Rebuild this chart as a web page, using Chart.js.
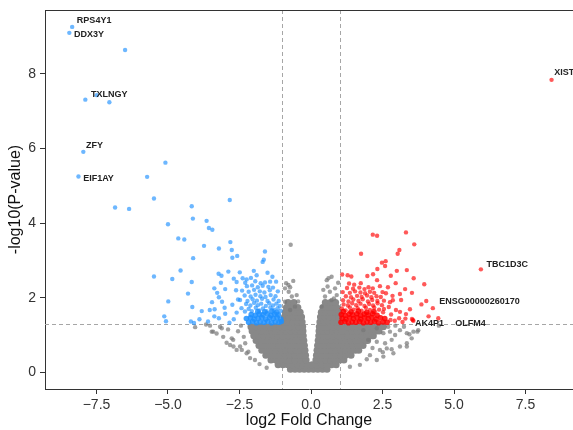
<!DOCTYPE html>
<html>
<head>
<meta charset="utf-8">
<script src="https://cdn.jsdelivr.net/npm/chart.js@4.4.1/dist/chart.umd.min.js"></script>
<style>
  html, body { margin: 0; padding: 0; background: #fff; overflow: hidden; }
  #c { display: block; }
</style>
</head>
<body>
<canvas id="c" width="573" height="430"></canvas>
<script>
// ---- axis ticks ----
const xTickValues = [-7.5, -5, -2.5, 0, 2.5, 5, 7.5];
const xTickLabels = ['\u22127.5', '\u22125.0', '\u22122.5', '0.0', '2.5', '5.0', '7.5'];
const yTickValues = [0, 2, 4, 6, 8];
const yTickLabels = ['0', '2', '4', '6', '8'];

// ---- thresholds ----
const fcCutoffs = [-1, 1];
const pCutoff = 1.3;

// ---- down-regulated (blue), scattered ----
const downPoints = [
  [-8.35,9.26],[-8.45,9.10],[-6.50,8.64],[-7.89,7.31],[-7.49,7.43],[-7.05,7.24],[-7.96,5.91],[-8.13,5.25],
  [-5.73,5.24],[-5.09,5.62],[-5.49,4.66],[-6.85,4.42],[-6.36,4.38],[-2.84,4.62],[-4.17,4.45],[-4.13,4.12],
  [-3.65,4.06],[-5.00,3.97],[-3.57,3.87],[-3.45,3.82],[-4.64,3.59],[-4.43,3.56],[-2.82,3.49],[-3.74,3.39],
  [-3.22,3.32],[-2.77,3.28],[-4.12,3.06],[-2.75,3.07],[-2.58,3.12],[-1.61,3.24],[-1.65,3.02],[-1.69,2.96],
  [-4.56,2.73],[-5.49,2.57],[-4.85,2.50],[-4.17,2.42],[-4.30,2.11],[-4.99,1.90],[-4.15,1.75],[-5.13,1.50],
  [-5.07,1.37],[-4.20,1.36],[-4.09,1.32],[-3.23,2.64],[-3.13,2.59],[-2.89,2.70],[-2.49,2.68],[-2.70,2.51],
  [-3.15,2.40],[-3.00,2.23],[-3.38,2.25],[-3.28,2.13],[-3.22,2.01],[-3.46,1.88],[-3.11,1.89],[-2.75,1.81],
  [-3.54,1.67],[-3.37,1.69],[-3.02,1.73],[-3.82,1.64],[-3.38,1.50],[-3.22,1.45],[-3.00,1.57],[-2.70,1.42],
  [-2.39,2.52],[-2.25,2.49],[-3.60,1.36],[-2.85,1.33],[-2.60,1.60],[-2.55,1.95],[-2.62,2.20],[-3.90,1.42],
  [-2.43,1.72],[-2.31,1.63],[-2.18,1.70],[-2.07,1.64],[-1.93,1.73],[-1.81,1.66],[-1.68,1.71],[-1.55,1.64],
  [-1.42,1.74],[-1.30,1.67],[-1.17,1.72],[-1.06,1.65],[-2.27,1.83],[-2.12,1.79],[-1.99,1.86],[-1.86,1.80],
  [-1.74,1.84],[-1.58,1.78],[-1.46,1.85],[-1.33,1.79],[-1.21,1.84],[-1.09,1.78],
  [-2.48,1.94],[-2.22,1.91],[-2.04,1.96],[-1.89,1.92],[-1.71,1.97],[-1.52,1.91],[-1.31,1.95],[-1.13,1.91],
  [-2.32,2.06],[-2.11,2.03],[-1.94,2.08],[-1.77,2.04],[-1.59,2.02],[-1.41,2.07],[-1.24,2.04],
  [-2.41,2.19],[-2.18,2.16],[-1.99,2.21],[-1.79,2.17],[-1.63,2.14],[-1.44,2.20],[-1.16,2.17],
  [-2.24,2.31],[-2.06,2.33],[-1.86,2.28],[-1.69,2.32],[-1.49,2.29],[-1.33,2.27],
  [-2.60,2.42],[-2.30,2.40],[-1.95,2.44],[-1.76,2.39],[-1.61,2.41],[-1.43,2.43],[-1.22,2.43],
  [-2.10,2.53],[-1.90,2.60],[-1.35,2.56],[-2.00,2.72],[-1.52,2.67]
];
// ---- down-regulated (blue), dense band ----
const downCore = [
  [-2.18,1.34],[-2.04,1.36],[-1.91,1.33],[-1.78,1.35],[-1.64,1.34],[-1.51,1.36],[-1.38,1.33],[-1.25,1.35],[-1.12,1.34],[-1.04,1.36],
  [-2.26,1.44],[-2.12,1.46],[-1.99,1.43],[-1.85,1.45],[-1.72,1.47],[-1.58,1.43],[-1.45,1.46],[-1.32,1.44],[-1.19,1.47],[-1.06,1.43],
  [-2.09,1.55],[-1.95,1.53],[-1.81,1.56],[-1.68,1.54],[-1.53,1.57],[-1.40,1.53],[-1.27,1.56],[-1.14,1.54],
  [-1.86,1.63],[-1.62,1.62],[-1.37,1.64],[-1.20,1.61]
];

// ---- up-regulated (red), scattered ----
const upPoints = [
  [8.41,7.84],[5.94,2.76],[4.26,1.72],[4.45,1.45],
  [2.16,3.69],[2.31,3.66],[3.32,3.75],[3.61,3.43],[1.75,3.18],[3.03,3.18],[3.09,3.28],[2.48,2.94],
  [2.61,2.98],[2.32,2.77],[2.59,2.85],[1.97,2.58],[2.17,2.63],[2.79,2.59],[3.00,2.72],[3.35,2.74],
  [3.59,2.52],[1.09,2.62],[1.28,2.60],[1.41,2.57],[1.33,2.38],[1.51,2.35],[1.74,2.39],[2.31,2.47],
  [2.41,2.31],[2.69,2.28],[2.96,2.39],[3.11,2.10],[3.29,2.23],[3.53,2.13],[3.15,1.94],[2.86,1.93],
  [2.76,1.88],[2.97,1.67],[3.11,1.62],[3.32,1.56],[3.46,1.69],[3.30,1.44],[2.93,1.38],[3.08,1.45],
  [3.56,1.40],[3.96,2.36],[4.03,1.91],[3.86,1.82],[4.11,1.50],[3.53,1.43],[3.58,1.38],[2.80,1.55],
  [2.72,1.75],[2.85,2.05],[2.62,2.12],[2.55,1.70],[3.20,1.35],[2.78,1.40],
  [1.08,1.71],[1.21,1.66],[1.36,1.74],[1.49,1.68],[1.63,1.72],[1.77,1.65],[1.92,1.73],[2.06,1.67],
  [2.21,1.74],[2.38,1.68],[2.52,1.61],[1.14,1.82],[1.29,1.79],[1.44,1.85],[1.58,1.80],[1.73,1.84],
  [1.87,1.78],[2.03,1.83],[2.17,1.79],[2.33,1.85],[2.48,1.80],
  [1.12,1.93],[1.31,1.90],[1.48,1.95],[1.66,1.91],[1.81,1.96],[1.99,1.90],[2.14,1.94],[2.32,1.91],[2.55,1.92],
  [1.22,2.04],[1.40,2.01],[1.61,2.05],[1.77,2.02],[1.96,2.06],[2.11,2.01],[2.29,2.04],[2.44,2.02],
  [1.11,2.15],[1.36,2.13],[1.54,2.17],[1.73,2.14],[1.89,2.12],[2.06,2.16],[2.21,2.13],[2.50,2.15],
  [1.26,2.26],[1.47,2.24],[1.69,2.27],[1.87,2.23],[2.01,2.28],[2.16,2.25]
];
// ---- up-regulated (red), dense band ----
const upCore = [
  [1.05,1.34],[1.18,1.36],[1.31,1.33],[1.44,1.35],[1.57,1.34],[1.70,1.36],[1.83,1.33],[1.96,1.35],[2.09,1.34],[2.22,1.36],[2.36,1.33],[2.52,1.35],[2.66,1.34],
  [1.09,1.45],[1.22,1.43],[1.35,1.46],[1.48,1.44],[1.61,1.47],[1.74,1.43],[1.87,1.46],[2.00,1.44],[2.13,1.47],[2.27,1.43],[2.43,1.46],[2.58,1.44],
  [1.06,1.55],[1.19,1.53],[1.33,1.56],[1.46,1.54],[1.60,1.57],[1.73,1.53],[1.86,1.56],[2.00,1.54],[2.15,1.57],[2.31,1.53],
  [1.13,1.63],[1.40,1.62],[1.66,1.64],[1.95,1.61],[2.20,1.63]
];

// ---- not significant (grey), scattered ----
const nsPoints = [
  [-4.05,1.21],[-3.67,1.28],[-3.53,1.25],[-3.42,1.09],[-3.30,1.04],[-3.12,1.18],[-3.07,0.95],[-2.95,0.79],
  [-2.77,0.91],[-2.71,0.69],[-2.60,0.60],[-2.42,0.60],[-2.25,0.51],[-2.13,0.38],[-1.96,0.33],[-3.47,1.09],
  [-3.18,1.22],[-2.72,0.87],[-2.48,0.69],[-2.19,0.55],[-2.83,0.73],[-2.55,1.10],[-2.35,0.95],[-2.90,1.15],
  [-2.45,1.25],[-1.80,0.22],[-1.55,0.12],[-2.30,0.78],
  [1.83,1.13],[2.30,1.18],[2.53,1.05],[2.76,1.09],[2.94,1.00],[3.11,1.13],[3.35,1.05],[3.58,1.09],
  [3.75,1.13],[2.00,0.87],[2.30,0.82],[2.59,0.78],[2.82,0.87],[2.41,0.60],[2.65,0.64],[2.88,0.51],
  [3.11,0.69],[2.06,0.46],[2.30,0.33],[2.53,0.42],[1.71,0.20],[1.36,0.15],[3.35,0.78],[3.52,0.91],
  [3.44,1.02],[3.72,1.09],[3.35,0.69],[2.82,0.62],[2.51,0.54],[4.47,1.25],[2.70,1.22],[2.95,1.25],
  [3.25,1.22],[2.15,0.65],[1.95,0.35],
  [-0.71,3.42],[-0.87,2.39],[-0.73,2.28],[-0.78,2.16],[-0.67,2.03],[-0.91,1.89],[-0.50,2.07],[-0.73,1.67],
  [-0.56,1.76],[-0.79,2.34],[-0.91,2.25],[-0.45,1.90],[-0.62,2.45],
  [0.72,2.56],[0.55,2.47],[0.43,2.21],[0.66,2.16],[0.84,2.25],[0.90,2.07],[0.49,2.03],[0.72,1.94],
  [0.37,1.76],[0.61,2.52],[0.95,2.40],[0.80,1.98],[0.58,2.30]
];
// ---- not significant (grey), dense body ----
const nsCore = [
  [-0.72,0.08],[-0.56,0.08],[-0.40,0.08],[-0.24,0.08],[-0.08,0.08],[0.08,0.08],[0.24,0.08],[0.40,0.08],[0.56,0.08],
  [-1.15,0.20],[-0.98,0.20],[-0.81,0.20],[-0.64,0.20],[-0.47,0.20],[-0.30,0.20],[-0.13,0.20],[0.04,0.20],[0.21,0.20],[0.38,0.20],[0.55,0.20],[0.72,0.20],[0.88,0.20],
  [-1.40,0.33],[-1.23,0.33],[-1.06,0.33],[-0.89,0.33],[-0.72,0.33],[-0.55,0.33],[-0.36,0.33],[-0.17,0.33],
  [0.17,0.33],[0.34,0.33],[0.51,0.33],[0.68,0.33],[0.85,0.33],[1.02,0.33],[1.15,0.33],
  [-1.58,0.46],[-1.41,0.46],[-1.24,0.46],[-1.07,0.46],[-0.90,0.46],[-0.73,0.46],[-0.56,0.46],[-0.38,0.46],[-0.19,0.46],
  [0.19,0.46],[0.36,0.46],[0.53,0.46],[0.70,0.46],[0.87,0.46],[1.04,0.46],[1.21,0.46],[1.40,0.46],
  [-1.72,0.59],[-1.55,0.59],[-1.38,0.59],[-1.21,0.59],[-1.04,0.59],[-0.87,0.59],[-0.70,0.59],[-0.53,0.59],[-0.37,0.59],[-0.21,0.59],
  [0.21,0.59],[0.37,0.59],[0.53,0.59],[0.70,0.59],[0.87,0.59],[1.04,0.59],[1.21,0.59],[1.38,0.59],[1.55,0.59],[1.67,0.59],
  [-1.82,0.72],[-1.65,0.72],[-1.48,0.72],[-1.31,0.72],[-1.14,0.72],[-0.97,0.72],[-0.80,0.72],[-0.63,0.72],[-0.47,0.72],[-0.23,0.72],[-0.34,0.72],
  [0.23,0.72],[0.36,0.72],[0.50,0.72],[0.65,0.72],[0.80,0.72],[0.97,0.72],[1.14,0.72],[1.31,0.72],[1.48,0.72],[1.65,0.72],[1.82,0.72],
  [-1.92,0.85],[-1.75,0.85],[-1.58,0.85],[-1.41,0.85],[-1.24,0.85],[-1.07,0.85],[-0.90,0.85],[-0.73,0.85],[-0.56,0.85],[-0.40,0.85],[-0.25,0.85],
  [0.25,0.85],[0.40,0.85],[0.56,0.85],[0.73,0.85],[0.90,0.85],[1.07,0.85],[1.24,0.85],[1.41,0.85],[1.58,0.85],[1.75,0.85],[1.92,0.85],[1.98,0.85],
  [-2.00,0.98],[-1.83,0.98],[-1.66,0.98],[-1.49,0.98],[-1.32,0.98],[-1.15,0.98],[-0.98,0.98],[-0.81,0.98],[-0.64,0.98],[-0.48,0.98],[-0.37,0.98],[-0.27,0.98],
  [0.27,0.98],[0.43,0.98],[0.60,0.98],[0.77,0.98],[0.94,0.98],[1.11,0.98],[1.28,0.98],[1.45,0.98],[1.62,0.98],[1.79,0.98],[1.96,0.98],[2.13,0.98],[2.18,0.98],
  [-2.06,1.11],[-1.89,1.11],[-1.72,1.11],[-1.55,1.11],[-1.38,1.11],[-1.21,1.11],[-1.04,1.11],[-0.87,1.11],[-0.70,1.11],[-0.53,1.11],[-0.38,1.11],[-0.28,1.11],
  [0.28,1.11],[0.42,1.11],[0.58,1.11],[0.75,1.11],[0.92,1.11],[1.09,1.11],[1.26,1.11],[1.43,1.11],[1.60,1.11],[1.77,1.11],[1.94,1.11],[2.11,1.11],[2.28,1.11],[2.38,1.11],
  [-2.10,1.22],[-1.93,1.22],[-1.76,1.22],[-1.59,1.22],[-1.42,1.22],[-1.25,1.22],[-1.08,1.22],[-0.91,1.22],[-0.74,1.22],[-0.57,1.22],[-0.42,1.22],[-0.29,1.22],
  [0.29,1.22],[0.44,1.22],[0.60,1.22],[0.77,1.22],[0.94,1.22],[1.11,1.22],[1.28,1.22],[1.45,1.22],[1.62,1.22],[1.79,1.22],[1.96,1.22],[2.13,1.22],[2.30,1.22],[2.45,1.22],[2.53,1.22],
  [-0.95,1.35],[-0.78,1.35],[-0.62,1.35],[-0.46,1.35],[-0.31,1.35],[0.31,1.35],[0.46,1.35],[0.62,1.35],[0.78,1.35],[0.95,1.35],
  [-0.93,1.48],[-0.76,1.48],[-0.60,1.48],[-0.45,1.48],[-0.33,1.48],[0.33,1.48],[0.48,1.48],[0.64,1.48],[0.80,1.48],[0.96,1.48],
  [-0.90,1.61],[-0.73,1.61],[-0.56,1.61],[-0.38,1.61],[0.36,1.61],[0.52,1.61],[0.68,1.61],[0.84,1.61],[0.97,1.61],
  [-0.86,1.74],[-0.68,1.74],[-0.46,1.74],[0.42,1.74],[0.58,1.74],[0.74,1.74],[0.90,1.74],
  [-0.80,1.87],[-0.60,1.87],[0.50,1.87],[0.68,1.87],[0.86,1.87]
];

// ---- labelled genes ----
const geneNames = ['RPS4Y1','DDX3Y','TXLNGY','ZFY','EIF1AY','XIST','TBC1D3C','ENSG00000260170','AK4P1','OLFM4'];
const geneX = [-8.35, -8.45, -7.89, -7.96, -8.13, 8.41, 5.94, 4.26, 3.58, 4.47];
const geneY = [9.26, 9.10, 7.31, 5.91, 5.25, 7.84, 2.76, 1.72, 1.38, 1.25];
// label pixel offsets (style)
const labelOffsets = [[4.7,-6.5],[4.7,1.7],[5.7,-4.7],[2.7,-6.7],[4.7,2.4],[2.6,-7],[5.7,-4.8],[6.3,-7.1],[1.6,3],[16.5,-1.9]];

const FONT = '"Liberation Sans", Arial, Helvetica, sans-serif';
const toXY = arr => arr.map(p => ({x: p[0], y: p[1]}));
const noScalePadding = s => { s.paddingTop = 0; s.paddingBottom = 0; s.paddingLeft = 0; s.paddingRight = 0; };

const refLines = {
  id: 'refLines',
  beforeDatasetsDraw(chart) {
    const {ctx, chartArea: a, scales: {x, y}} = chart;
    ctx.save();
    ctx.strokeStyle = '#a6a6a6';
    ctx.lineWidth = 1;
    ctx.setLineDash([4, 3]);
    fcCutoffs.forEach(v => {
      const px = Math.round(x.getPixelForValue(v)) + 0.5;
      ctx.beginPath(); ctx.moveTo(px, a.top); ctx.lineTo(px, a.bottom); ctx.stroke();
    });
    const py = Math.round(y.getPixelForValue(pCutoff)) + 0.5;
    ctx.beginPath(); ctx.moveTo(a.left, py); ctx.lineTo(a.right, py); ctx.stroke();
    ctx.restore();
  }
};

const topBorder = {
  id: 'topBorder',
  afterDraw(chart) {
    const {ctx, chartArea: a} = chart;
    ctx.save();
    ctx.strokeStyle = '#333';
    ctx.lineWidth = 1;
    ctx.beginPath(); ctx.moveTo(a.left, a.top + 0.5); ctx.lineTo(a.right, a.top + 0.5); ctx.stroke();
    ctx.restore();
  }
};

const geneLabels = {
  id: 'geneLabels',
  afterDatasetsDraw(chart) {
    const {ctx, scales: {x, y}} = chart;
    ctx.save();
    ctx.font = 'bold 9px ' + FONT;
    ctx.fillStyle = '#222';
    ctx.textAlign = 'left';
    ctx.textBaseline = 'middle';
    geneNames.forEach((g, i) => {
      const px = x.getPixelForValue(geneX[i]) + labelOffsets[i][0];
      const py = y.getPixelForValue(geneY[i]) + labelOffsets[i][1];
      ctx.fillText(g, px, py);
    });
    ctx.restore();
  }
};

new Chart(document.getElementById('c'), {
  type: 'scatter',
  data: {
    datasets: [
      {data: toXY(upPoints), backgroundColor: 'rgba(255,0,0,0.65)', borderWidth: 0, pointRadius: 2.2, order: 1},
      {data: toXY(upCore), backgroundColor: 'rgba(255,0,0,0.85)', borderWidth: 0, pointRadius: 2.8, order: 2},
      {data: toXY(downPoints), backgroundColor: 'rgba(30,144,255,0.65)', borderWidth: 0, pointRadius: 2.2, order: 3},
      {data: toXY(downCore), backgroundColor: 'rgba(30,144,255,0.85)', borderWidth: 0, pointRadius: 2.8, order: 4},
      {data: toXY(nsPoints), backgroundColor: 'rgba(120,120,120,0.7)', borderWidth: 0, pointRadius: 2.2, order: 5},
      {data: toXY(nsCore), backgroundColor: 'rgb(136,136,136)', borderWidth: 0, pointRadius: 3.5, order: 6}
    ]
  },
  options: {
    responsive: false,
    animation: false,
    devicePixelRatio: 1,
    layout: {autoPadding: false, padding: {top: 10, right: 0, left: 0, bottom: 0}},
    plugins: {legend: {display: false}, tooltip: {enabled: false}},
    scales: {
      x: {
        type: 'linear', min: -9.3, max: 9.16,
        afterBuildTicks: s => { s.ticks = xTickValues.map(v => ({value: v})); },
        afterFit: s => { s.height = 41; noScalePadding(s); },
        ticks: {
          autoSkip: false, maxRotation: 0, padding: 3, color: '#333',
          font: {family: FONT, size: 14},
          callback: (v) => xTickLabels[xTickValues.indexOf(v)]
        },
        grid: {drawOnChartArea: false, drawTicks: true, tickLength: 5, color: '#333'},
        border: {display: true, color: '#333', width: 1},
        title: {display: true, text: 'log2 Fold Change', color: '#111', font: {family: FONT, size: 16}, padding: {top: 0, bottom: 0}}
      },
      y: {
        type: 'linear', min: -0.448, max: 9.713,
        afterBuildTicks: s => { s.ticks = yTickValues.map(v => ({value: v})); },
        afterFit: s => { s.width = 45; noScalePadding(s); },
        ticks: {
          autoSkip: false, padding: 4, color: '#333',
          font: {family: FONT, size: 14},
          callback: (v) => yTickLabels[yTickValues.indexOf(v)]
        },
        grid: {drawOnChartArea: false, drawTicks: true, tickLength: 5, color: '#333'},
        border: {display: true, color: '#333', width: 1},
        title: {display: true, text: '-log10(P-value)', color: '#111', font: {family: FONT, size: 16}, padding: {top: 6, bottom: 0}}
      }
    }
  },
  plugins: [refLines, geneLabels, topBorder]
});
</script>
</body>
</html>
